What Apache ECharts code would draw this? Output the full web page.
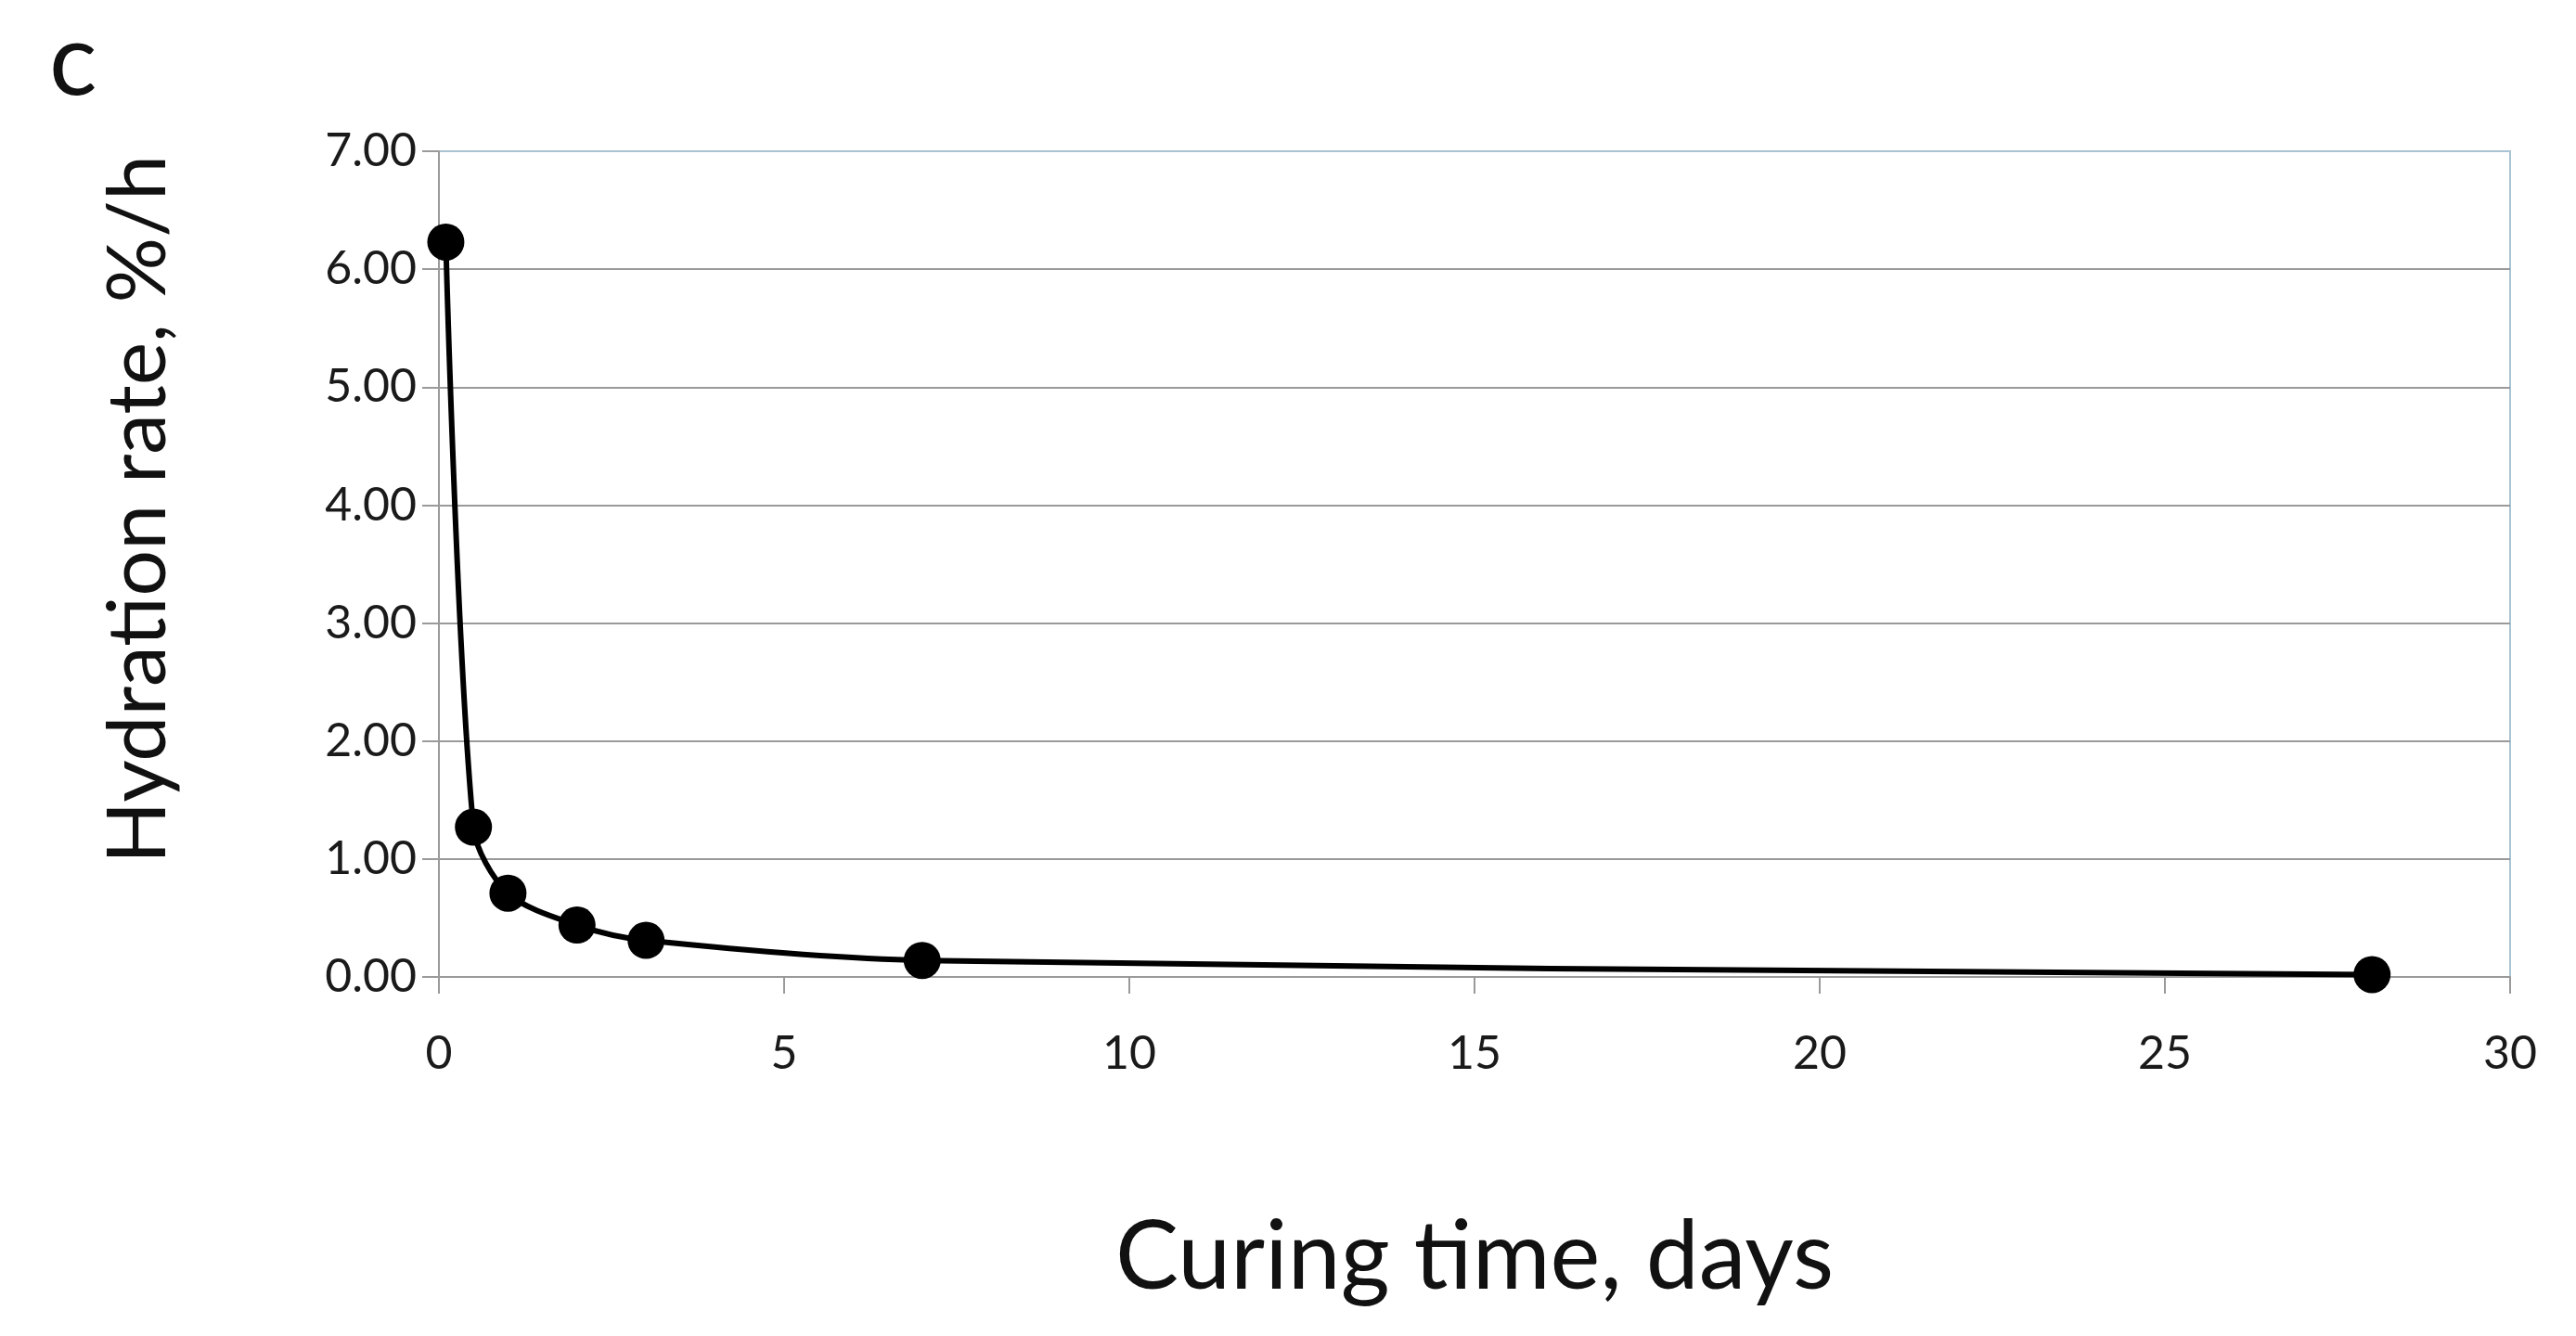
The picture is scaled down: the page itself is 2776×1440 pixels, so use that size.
<!DOCTYPE html>
<html>
<head>
<meta charset="utf-8">
<script src="https://cdn.jsdelivr.net/npm/echarts@6/dist/echarts.min.js"></script>
<style>html,body{margin:0;padding:0;background:#fff;}#c{width:2776px;height:1440px;}</style>
</head>
<body>
<div id="c"></div>
<script>
const days = [0.1, 0.5, 1, 2, 3, 7, 28];
const rate = [6.23, 1.27, 0.71, 0.44, 0.31, 0.14, 0.02];
const xTitle = 'Curing time, days';
const yTitle = 'Hydration rate, %/h';
const panelLabel = 'c';

const FONT = 'Lato';
const chart = echarts.init(document.getElementById('c'));
chart.setOption({
  backgroundColor: '#ffffff',
  animation: false,
  grid: { left: 473, right: 71, top: 163, bottom: 387, show: true, borderColor: '#a9c3d2', borderWidth: 2, backgroundColor: 'transparent' },
  title: { text: panelLabel, left: 48, top: 8, textStyle: { fontFamily: FONT, fontSize: 108, fontWeight: 'normal', color: '#111' } },
  graphic: [{
    type: 'text', x: 150, y: 549, rotation: Math.PI / 2,
    style: { text: yTitle, fontFamily: FONT, fontSize: 88, fill: '#111', textAlign: 'center', textVerticalAlign: 'middle' }
  }],
  xAxis: {
    type: 'value', min: 0, max: 30, interval: 5,
    name: xTitle, nameLocation: 'middle', nameGap: 252,
    nameTextStyle: { fontFamily: FONT, fontSize: 102, color: '#111' },
    axisLine: { show: true, lineStyle: { color: '#9a9a9a', width: 2 } },
    axisTick: { show: true, length: 18, lineStyle: { color: '#9a9a9a', width: 2 } },
    axisLabel: { fontFamily: FONT, fontSize: 50, color: '#1a1a1a', margin: 58 },
    splitLine: { show: false }
  },
  yAxis: {
    type: 'value', min: 0, max: 7, interval: 1,
    axisLine: { show: true, lineStyle: { color: '#9a9a9a', width: 2 } },
    axisTick: { show: true, length: 18, lineStyle: { color: '#9a9a9a', width: 2 } },
    axisLabel: { fontFamily: FONT, fontSize: 50, color: '#1a1a1a', margin: 24, formatter: v => v.toFixed(2) },
    splitLine: { show: true, showMaxLine: false, lineStyle: { color: '#9a9a9a', width: 2 } }
  },
  series: [{
    type: 'line',
    data: days.map((d, i) => [d, rate[i]]),
    smooth: 0.3,
    symbol: 'circle',
    symbolSize: 40,
    itemStyle: { color: '#000' },
    lineStyle: { color: '#000', width: 6 },
    z: 5
  }]
});
</script>
</body>
</html>
